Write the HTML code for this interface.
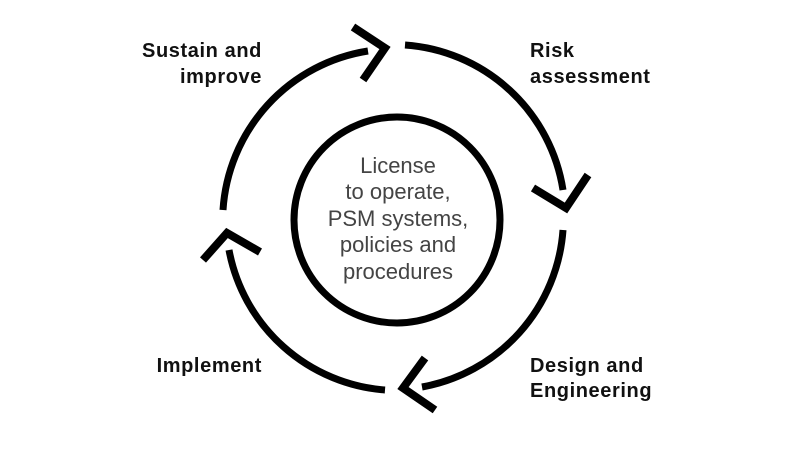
<!DOCTYPE html>
<html><head><style>body{margin:0;background:#fff}svg{display:block}</style></head><body>
<svg width="800" height="450" viewBox="0 0 800 450" xmlns="http://www.w3.org/2000/svg">
<g fill="none" stroke="#000" stroke-width="7">
<path d="M405,45 A172,172 0 0 1 563,190"/>
<path d="M563,230 A172,172 0 0 1 422,387"/>
<path d="M385,390 A172,172 0 0 1 229,250"/>
<path d="M223,210 A172,172 0 0 1 368,51"/>
<circle cx="397" cy="220" r="103"/>
</g>
<g fill="none" stroke="#000" stroke-width="8">
<polyline points="533,188 566,208 588,175"/>
<polyline points="425,358 403,388 435,410"/>
<polyline points="203,260 227,233 260,252"/>
<polyline points="353,27 385,48 363,80"/>
</g>
<g font-family="Liberation Sans, sans-serif" fill="#444" font-size="22" text-anchor="middle">
<text x="398" y="173">License</text>
<text x="398" y="199">to operate,</text>
<text x="398" y="226">PSM systems,</text>
<text x="398" y="252">policies and</text>
<text x="398" y="279">procedures</text>
</g>
<g font-family="Liberation Sans, sans-serif" fill="#111" font-size="20" font-weight="bold" letter-spacing="0.6">
<text x="262" y="57" text-anchor="end">Sustain and</text>
<text x="262" y="83" text-anchor="end">improve</text>
<text x="262" y="372" text-anchor="end">Implement</text>
<text x="530" y="57">Risk</text>
<text x="530" y="83">assessment</text>
<text x="530" y="372">Design and</text>
<text x="530" y="397">Engineering</text>
</g>
</svg>
</body></html>
